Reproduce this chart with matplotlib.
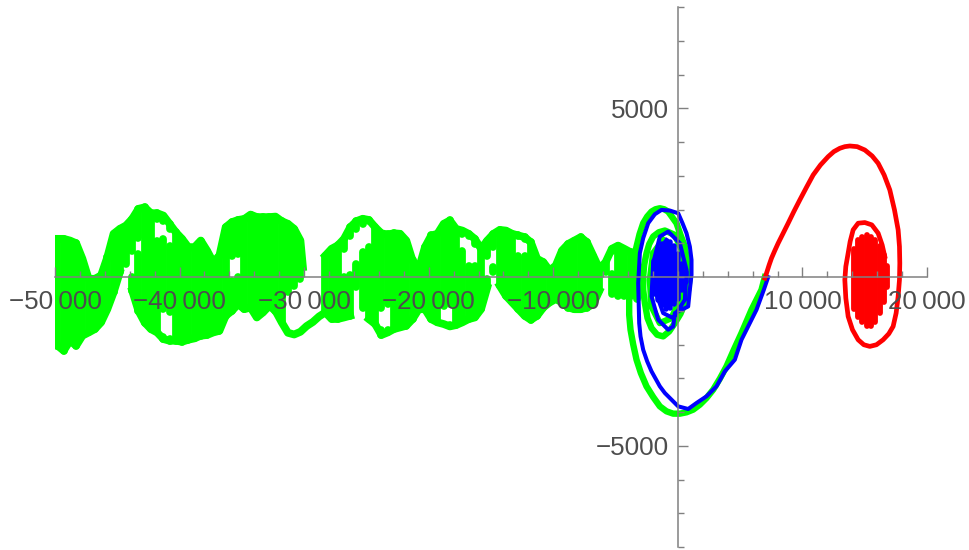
#!/usr/bin/env python3
"""Three trajectories (green, blue, red) on centred axes."""

import matplotlib
matplotlib.use('Agg')
import matplotlib.pyplot as plt

plt.rcParams['font.family'] = ['Liberation Sans', 'DejaVu Sans']

x_major = [-50000, -40000, -30000, -20000, -10000, 10000, 20000]
x_labels = ['\u221250\u2009000', '\u221240\u2009000', '\u221230\u2009000', '\u221220\u2009000',
            '\u221210\u2009000', '10\u2009000', '20\u2009000']
y_major = [-5000, 5000]
y_labels = ['\u22125000', '5000']

# green cloud on the left: x, lower and upper extent of the filled part
green_x = [-49800, -49300, -48800, -48300, -47800, -47300, -46800, -46300, -45800, -45300,
           -44800, -44300, -43800, -43800, -43300, -43300, -42800, -42300, -41800, -41800,
           -41300, -41300, -41300, -40800, -40800, -40800, -40300, -39800, -39300, -38800,
           -38300, -37800, -37300, -36800, -36300, -35800, -35800, -35300, -35300, -34800,
           -34300, -33800, -33300, -32800, -32300, -31800, -31300, -30800, -30300,
           -28300, -27800, -27300, -26800, -26800,
           -26300, -26300, -25800, -25800, -25300, -25300, -24800, -24800, -24300, -23800,
           -23800, -23300, -23300, -22800, -22300, -21800, -21300, -20800, -20300, -19800,
           -19300, -18800, -18800, -18300, -18300, -17800, -17300, -17300, -16800, -16800,
           -16300, -16300, -15800, -15300, -15300, -14800, -14800, -14300, -13800, -13300,
           -12800, -12800, -12300, -12300, -11800, -11300, -10800, -10300, -9800, -9300,
           -8800, -8300, -7800, -7300, -6800, -6300, -5800, -5300, -5300, -4800,
           -4300, -3800, -3300]
green_high = [1135, 1135, 1085, 1005, 545, -50, -50, 50, 590, 1285,
              1430, 1530, 1730, 0, 2025, 690, 2070, 1895, 1895, 1085,
              1825, 1130, -1775, 1580, 935, -1825, 1330, 1135, 890, 890,
              1085, 790, 445, 640, 1480, 1630, -100, 1695, 0, 1725,
              1855, 1780, 1780, 1780, 1795, 1660, 1580, 1430, 1085,
              640, 840, 940, 1135, 0,
              1480, 50, 1660, 395, 1730, 740, 1695, 890, 1480, 1300,
              -1580, 1265, -1580, 1300, 1285, 1085, 495, 245, 890, 1235,
              1285, 1580, -1380, 1680, -1430, 1430, 1380, 790, 1285, 345,
              1135, 345, 840, 1085, -50, 1285, 295, 1400, 1380, 1285,
              1235, 640, 1185, 640, 1035, 545, 445, 195, 345, 790,
              985, 1085, 1185, 1035, 640, 245, 445, 840, 100, 935,
              740, 740, 690]
green_low = [-2030, -2180, -1885, -2030, -1735, -1640, -1540, -1340, -950, -455,
             140, 385, 780, -405, 1175, -1000, -1345, -1540, 1715, -1640,
             1670, -950, -1835, 1420, -1045, -1885, -1885, -1915, -1855, -1815,
             -1735, -1715, -1640, -1590, -1145, 630, -1000, 680, -800, -950,
             -900, -1195, -1045, -850, -1000, -1340, -455, -255, -60,
             -1045, -1240, -1240, 830, -1195,
             1225, -1145, 1430, -305, 1570, -900, 1670, -1245, -1390, -900,
             -1715, -800, -1640, -1540, -1490, -1440, -1245, -950, -950, -1245,
             -1340, -850, -1390, -800, -1460, -1420, 1270, -1340, 1225, -1245,
             975, -1195, -950, 630, -305, 880, 140, -255, -555, -750,
             1225, -950, 1125, -1145, -1265, -1145, -900, -750, -650, -750,
             -900, -950, -950, -900, -800, -405, 140, 780, -505, -555,
             -555, -555, -650]

# edges of the green cloud, traced separately
edge_a_x = [-49800, -49300, -48800, -48300, -47800, -47300, -46800, -46300, -45800, -45300, -44800, -44300,
            -43800, -43300, -42800, -42300, -41800, -41300, -40800, -40300, -39800, -39300, -38800, -38300,
            -37800, -37300, -36800, -36300, -35800, -35300, -34800, -34300, -33800, -33300, -32800, -32300,
            -31800, -31300, -30800, -30300, -30100]
edge_a_y = [1135, 1135, 1085, 1005, 545, -50, -50, 50, 590, 1285, 1430, 1530,
            1730, 2025, 2070, 1895, 1895, 1825, 1580, 1330, 1135, 890, 890, 1085,
            790, 445, 640, 1480, 1630, 1695, 1725, 1855, 1780, 1780, 1780, 1795,
            1660, 1580, 1430, 1085, 300]
edge_b_x = [-49800, -49300, -48800, -48300, -47800, -47300, -46800, -46300, -45800, -45300, -44800]
edge_b_y = [-2030, -2180, -1885, -2030, -1735, -1640, -1540, -1340, -950, -455, 140]
edge_c_x = [-43800, -43300, -42800, -42300, -41800, -41300, -40800, -40300, -39800, -39300, -38800, -38300,
            -37800, -37300, -36800, -36300, -35800, -35300, -34800, -34300, -33800, -33300, -32800, -32300,
            -31800, -31300, -30800, -30300, -29800, -29300, -28800, -28300, -27800, -27300, -26800, -26300]
edge_c_y = [-405, -1000, -1345, -1540, -1640, -1835, -1885, -1885, -1915, -1855, -1815, -1735,
            -1715, -1640, -1590, -1145, -1000, -800, -950, -900, -1195, -1045, -850, -1000,
            -1340, -1650, -1700, -1620, -1450, -1330, -1165, -1045, -1240, -1240, -1195, -1145]
edge_d_x = [-28300, -27800, -27300, -26800, -26300, -25800, -25300, -24800, -24300, -23800, -23300, -22800,
            -22300, -21800, -21300, -20800, -20300, -19800, -19300, -18800, -18300, -17800, -17300, -16800,
            -16300, -15800, -15300, -14800, -14300, -13800, -13300, -12800, -12300, -11800, -11300, -10800,
            -10300, -9800, -9300, -8800, -8300, -7800, -7300, -6800, -6300, -5800, -5300, -4800, -4300, -3800, -3300]
edge_d_y = [640, 840, 940, 1135, 1480, 1660, 1730, 1695, 1480, 1300, 1265, 1300,
            1285, 1085, 495, 245, 890, 1235, 1285, 1580, 1680, 1430, 1380, 1285,
            1135, 840, 1085, 1285, 1400, 1380, 1285, 1235, 1185, 1035, 545, 445,
            195, 345, 790, 985, 1085, 1185, 1035, 640, 245, 445, 840, 935, 840, 740, 690]
edge_e_x = [-24800, -24300, -23800, -23300, -22800, -22300, -21800, -21300, -20800, -20300, -19800, -19300,
            -18800, -18300, -17800, -17300, -16800, -16300, -15800, -15300]
edge_e_y = [-1245, -1390, -1715, -1640, -1540, -1490, -1440, -1245, -950, -950, -1245, -1340,
            -1390, -1460, -1420, -1340, -1245, -1195, -950, -305]
edge_f_x = [-14300, -13800, -13300, -12800, -12300, -11800, -11300, -10800, -10300, -9800, -9300, -8800,
            -8300, -7800, -7300, -6800, -6300]
edge_f_y = [-255, -555, -750, -950, -1145, -1265, -1145, -900, -750, -650, -750, -900,
            -950, -950, -900, -800, -405]

# green line: big swing through the bottom and the rings near the origin
green_line_x = [6981, 6713, 6312, 5911, 5510, 5108, 4493, 3905, 3370, 2835, 2300, 1765, 1230, 695, 160, -376,
                -910, -1446, -1981, -2516, -2970, -3318, -3586, -3800, -3907, -3907, -3853, -3719, -3559,
                -3318, -3077, -2783, -2462, -2114, -1793, -1446, -1098, -777, -108, 213, 561, 749, 962, 829,
                561, 213, -242, -697, -1178, -1660, -2114, -2435, -2649, -2783, -2783, -2703, -2516, -2302,
                -1981, -1526, -1044, -242, 427, 561, 160, -509, -1446, -2114, -2248, -1981, -1178]
green_line_y = [0, -375, -671, -967, -1313, -1658, -2152, -2645, -3010, -3336, -3583, -3780, -3928, -4007, -4047, -4047,
                -3978, -3830, -3553, -3237, -2843, -2448, -1993, -1559, -1115, -671, -276, 118, 513,
                908, 1273, 1599, 1796, 1944, 2013, 2043, 2013, 1944, 1599, 1253, 908, 464, 20, -375,
                -770, -1086, -1362, -1609, -1757, -1708, -1510, -1214, -770, -375, 20, 365, 711, 977,
                1204, 1332, 1382, 1253, 711, 20, -671, -1214, -1362, -869, -79, 711, 1105]

blue_line_x = [7248, 6901, 6312, 5777, 5108, 4573, 3771, 3102, 2300, 1497, 828, 25, -643, -1044, -1446, -2114,
               -2462, -2783, -2997, -3104, -3184, -3050, -2783, -2382, -1847, -1312, -643, 25, 374, 694, 962,
               1096, 1096, 962, 828, -242, -375, -777, -1579,
               -2114, -1981, -1446, -777, 160, 694, 561, -375, -1178, -1847, -1713, -910]
blue_line_y = [0, -375, -967, -1362, -1856, -2448, -2793, -3237, -3533, -3731, -3909, -3830, -3583, -3435, -3237, -2793,
               -2497, -2152, -1757, -1362, -178, 711, 1155, 1599, 1865, 1994, 1974, 1895, 1599, 1303, 908,
               513, 69, -375, -869, -1066, -1461, -1559, -1263,
               -572, 415, 1204, 1352, 1007, 217, -671, -1214, -1066, -375, 612, 1105]
blue_core_x = [-1900, -1579, -1258, -937, -616, -295, 26, 347, 641]
blue_core_high = [485, 830, 975, 1045, 1045, 930, 680, 385, 140]
blue_core_low = [-495, -690, -840, -940, -910, -790, -640, -395, -150]

red_line_x = [6981, 7117, 7330, 7518, 7785, 8053, 8454, 8855, 9310, 9791, 10327, 10862, 11450, 12065, 12520,
              13000, 13403, 13804, 14393, 15008, 15596, 16078, 16559, 17014, 17389, 17683, 17790, 17817, 17790,
              17683, 17522, 17281, 16934, 16479, 15944, 15409, 14927, 14473, 14018, 13670, 13483, 13403, 13483,
              13670, 13830, 14071, 14473, 15008, 15570, 16078, 16399, 16613]
red_line_y = [-30, 118, 365, 563, 790, 1007, 1303, 1599, 1944, 2290, 2665, 3030, 3326, 3573, 3721,
              3820, 3869, 3889, 3869, 3770, 3593, 3376, 3030, 2586, 1994, 1402, 908, 415, -79,
              -572, -1066, -1461, -1678, -1856, -2004, -2053, -2004, -1856, -1559, -1165, -622, -79, 316,
              711, 1056, 1402, 1599, 1619, 1550, 1303, 957, 612]
red_core_x = [14125, 14473, 14820, 15168, 15516, 15864, 16211, 16559, 16750]
red_core_high = [820, 1095, 1195, 1235, 1195, 1095, 920, 670, 325]
red_core_low = [-930, -1175, -1325, -1440, -1440, -1325, -1075, -730, -285]

GREEN = '#00ff00'
BLUE = '#0000ff'
RED = '#ff0000'
AXIS_GRAY = '#808080'
TEXT_GRAY = '#4d4d4d'


def main():
    fig = plt.figure(figsize=(9.69, 5.5), dpi=100)
    ax = fig.add_axes([55 / 969, 3 / 550, 872 / 969, 539.7 / 550])
    ax.set_xlim(-50000, 20000)
    ax.set_ylim(-8000, 8000)

    # Green cloud: filled spans plus its traced edges
    ax.vlines(green_x, green_low, green_high, color=GREEN, linewidth=5.6, capstyle='round')
    edges = [(edge_a_x, edge_a_y), (edge_b_x, edge_b_y), (edge_c_x, edge_c_y),
             (edge_d_x, edge_d_y), (edge_e_x, edge_e_y), (edge_f_x, edge_f_y)]
    for ex, ey in edges:
        ax.plot(ex, ey, color=GREEN, linewidth=5.6, solid_joinstyle='round')
    ax.plot(green_line_x, green_line_y, color=GREEN, linewidth=4.6, solid_joinstyle='round')

    ax.plot(blue_line_x, blue_line_y, color=BLUE, linewidth=2.9, solid_joinstyle='round')
    ax.vlines(blue_core_x, blue_core_low, blue_core_high, color=BLUE, linewidth=4.0, capstyle='round')
    ax.plot(red_line_x, red_line_y, color=RED, linewidth=3.4, solid_joinstyle='round')
    ax.vlines(red_core_x, red_core_low, red_core_high, color=RED, linewidth=4.2, capstyle='round')

    # Axes cross at the origin, ticks point inwards
    ax.set_axisbelow(False)
    ax.patch.set_visible(False)
    for side in ['top', 'right']:
        ax.spines[side].set_visible(False)
    for side in ['bottom', 'left']:
        ax.spines[side].set_position(('data', 0))
        ax.spines[side].set_color(AXIS_GRAY)
        ax.spines[side].set_linewidth(1.1)

    ax.set_xticks(x_major, labels=x_labels)
    ax.set_yticks(y_major, labels=y_labels)
    ax.set_xticks(list(range(-48000, 20000, 2000)), minor=True)
    ax.set_yticks(list(range(-8000, 9000, 1000)), minor=True)
    ax.tick_params(axis='both', which='major', direction='in', length=7.2, width=1.0,
                   color=AXIS_GRAY, labelcolor=TEXT_GRAY, labelsize=18.7)
    ax.tick_params(axis='both', which='minor', direction='in', length=4.3, width=1.0,
                   color=AXIS_GRAY)
    ax.tick_params(axis='x', which='major', pad=9)
    ax.tick_params(axis='y', which='major', pad=6.5)

    plt.savefig('out.png', dpi=100)
    plt.close()


if __name__ == '__main__':
    main()
